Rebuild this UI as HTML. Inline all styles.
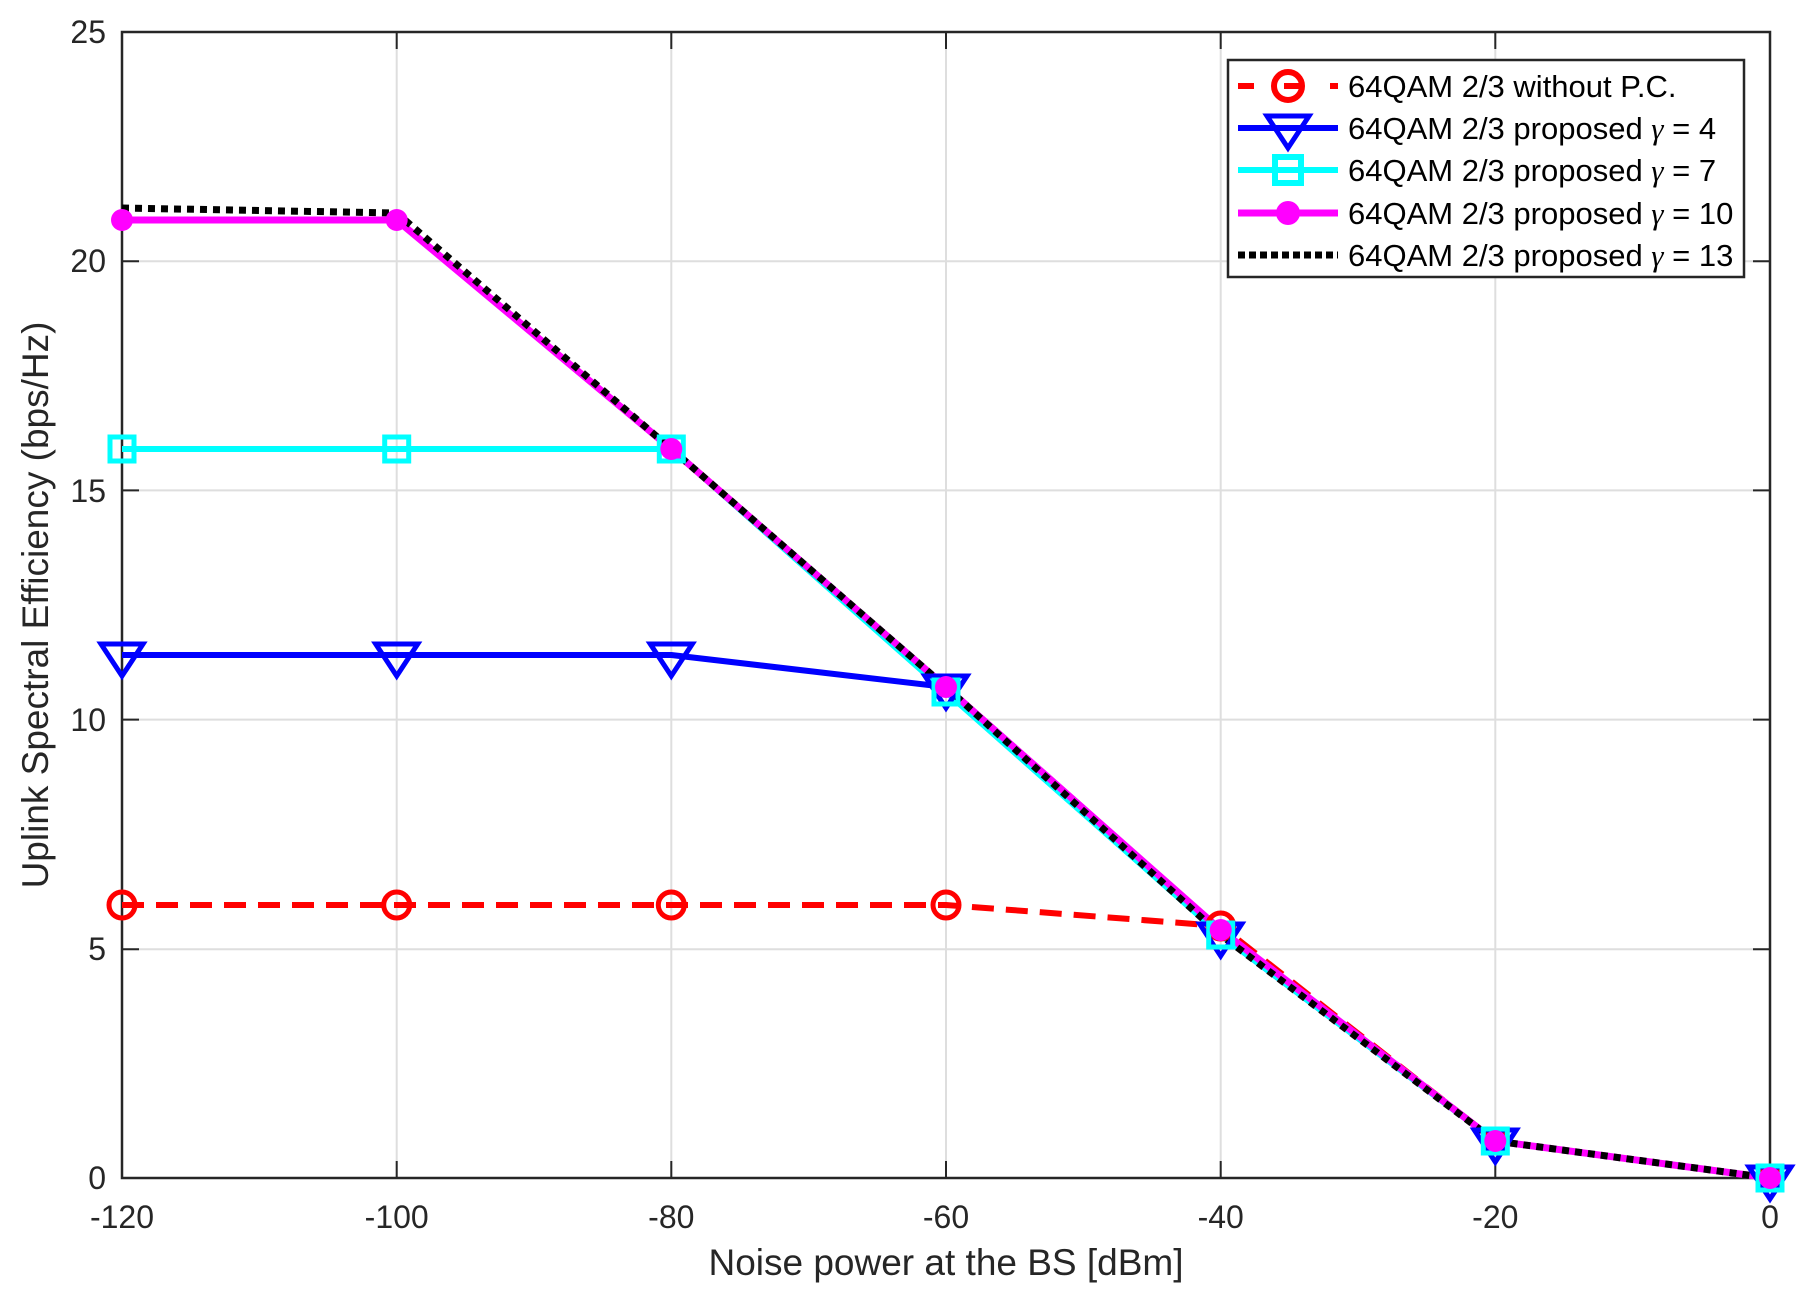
<!DOCTYPE html>
<html><head><meta charset="utf-8"><style>
body{margin:0;background:#fff}
svg{display:block}
text{font-family:"Liberation Sans",sans-serif;fill:#262626}
</style></head><body>
<svg width="1812" height="1304" xmlns="http://www.w3.org/2000/svg">
<rect width="1812" height="1304" fill="#fff"/>
<g stroke="#dedede" stroke-width="2">
<line x1="396.7" y1="32" x2="396.7" y2="1178"/><line x1="671.3" y1="32" x2="671.3" y2="1178"/><line x1="946" y1="32" x2="946" y2="1178"/><line x1="1220.7" y1="32" x2="1220.7" y2="1178"/><line x1="1495.3" y1="32" x2="1495.3" y2="1178"/>
<line x1="122" y1="949.2" x2="1770" y2="949.2"/><line x1="122" y1="719.6" x2="1770" y2="719.6"/><line x1="122" y1="490.4" x2="1770" y2="490.4"/><line x1="122" y1="261.2" x2="1770" y2="261.2"/>
</g>
<rect x="122" y="32" width="1648" height="1146" fill="none" stroke="#262626" stroke-width="2.5"/>
<g stroke="#262626" stroke-width="2">
<line x1="396.7" y1="1178" x2="396.7" y2="1161"/><line x1="671.3" y1="1178" x2="671.3" y2="1161"/><line x1="946" y1="1178" x2="946" y2="1161"/><line x1="1220.7" y1="1178" x2="1220.7" y2="1161"/><line x1="1495.3" y1="1178" x2="1495.3" y2="1161"/>
<line x1="396.7" y1="32" x2="396.7" y2="49"/><line x1="671.3" y1="32" x2="671.3" y2="49"/><line x1="946" y1="32" x2="946" y2="49"/><line x1="1220.7" y1="32" x2="1220.7" y2="49"/><line x1="1495.3" y1="32" x2="1495.3" y2="49"/>
<line x1="122" y1="949.2" x2="139" y2="949.2"/><line x1="122" y1="719.6" x2="139" y2="719.6"/><line x1="122" y1="490.4" x2="139" y2="490.4"/><line x1="122" y1="261.2" x2="139" y2="261.2"/>
<line x1="1770" y1="949.2" x2="1753" y2="949.2"/><line x1="1770" y1="719.6" x2="1753" y2="719.6"/><line x1="1770" y1="490.4" x2="1753" y2="490.4"/><line x1="1770" y1="261.2" x2="1753" y2="261.2"/>
</g>
<g font-size="32" text-anchor="middle">
<text x="122" y="1228">-120</text><text x="396.7" y="1228">-100</text><text x="671.3" y="1228">-80</text><text x="946" y="1228">-60</text><text x="1220.7" y="1228">-40</text><text x="1495.3" y="1228">-20</text><text x="1770" y="1228">0</text>
</g>
<g font-size="32" text-anchor="end">
<text x="106" y="1189">0</text><text x="106" y="960">5</text><text x="106" y="731">10</text><text x="106" y="502">15</text><text x="106" y="272">20</text><text x="106" y="43">25</text>
</g>
<text x="946" y="1275" font-size="37" text-anchor="middle">Noise power at the BS [dBm]</text>
<text transform="translate(48,605) rotate(-90)" font-size="37" text-anchor="middle">Uplink Spectral Efficiency (bps/Hz)</text>
<g fill="none" stroke-linejoin="round">
<polyline stroke="#ff0000" stroke-width="6" stroke-dasharray="22,12" points="122,905 396.7,905 671.3,905 946,905 1220.7,926 1495.3,1141 1770,1178"/>
<polyline stroke="#0000ff" stroke-width="6" points="122,655 396.7,655 671.3,655 946,687 1220.7,935 1495.3,1141 1770,1178"/>
<polyline stroke="#00ffff" stroke-width="6" points="122,449 396.7,449 671.3,449 946,692 1220.7,935 1495.3,1141 1770,1178"/>
<polyline stroke="#ff00ff" stroke-width="7" points="122,220 396.7,220 671.3,449 946,687 1220.7,930 1495.3,1141 1770,1178"/>
<polyline stroke="#000" stroke-width="7" stroke-dasharray="7,6" points="122,208 396.7,213 671.3,449 946,687 1220.7,935 1495.3,1141 1770,1178"/>
</g>
<g stroke-width="5" fill="none">
<g stroke="#ff0000"><circle cx="122" cy="905" r="13"/><circle cx="396.7" cy="905" r="13"/><circle cx="671.3" cy="905" r="13"/><circle cx="946" cy="905" r="13"/><circle cx="1220.7" cy="926" r="13"/><circle cx="1495.3" cy="1141" r="11"/><circle cx="1770" cy="1178" r="11"/></g>
<g stroke="#0000ff"><path d="M101,644h42l-21,32z"/><path d="M375.7,644h42l-21,32z"/><path d="M650.3,644h42l-21,32z"/><path d="M925,676h42l-21,32z"/><path d="M1199.7,924h42l-21,32z"/><path d="M1474.3,1130h42l-21,32z"/><path d="M1749,1167h42l-21,32z"/></g>
<g stroke="#00ffff"><rect x="110" y="437" width="24" height="24"/><rect x="384.7" y="437" width="24" height="24"/><rect x="659.3" y="437" width="24" height="24"/><rect x="934" y="680" width="24" height="24"/><rect x="1208.7" y="923" width="24" height="24"/><rect x="1483.3" y="1129" width="24" height="24"/><rect x="1758" y="1166" width="24" height="24"/></g>
</g>
<g fill="#ff00ff"><circle cx="122" cy="220" r="11"/><circle cx="396.7" cy="220" r="11"/><circle cx="671.3" cy="449" r="11"/><circle cx="946" cy="687" r="11"/><circle cx="1220.7" cy="930" r="11"/><circle cx="1495.3" cy="1141" r="11"/><circle cx="1770" cy="1178" r="11"/></g>
<rect x="1228" y="60" width="516" height="217" fill="#fff" stroke="#262626" stroke-width="2.5"/>
<g stroke-width="6">
<line x1="1238" y1="86" x2="1338" y2="86" stroke="#ff0000" stroke-dasharray="16,30"/>
<circle cx="1288" cy="86" r="14" stroke="#ff0000" stroke-width="6" fill="none"/>
<line x1="1238" y1="128" x2="1338" y2="128" stroke="#0000ff"/>
<path d="M1267,116h42l-21,32z" stroke="#0000ff" stroke-width="5" fill="none"/>
<line x1="1238" y1="170" x2="1338" y2="170" stroke="#00ffff"/>
<rect x="1275" y="157" width="26" height="26" stroke="#00ffff" stroke-width="6" fill="none"/>
<line x1="1238" y1="213" x2="1338" y2="213" stroke="#ff00ff" stroke-width="7"/>
<circle cx="1288" cy="213" r="12" fill="#ff00ff" stroke="none"/>
<line x1="1238" y1="255" x2="1338" y2="255" stroke="#000" stroke-width="7" stroke-dasharray="7,4"/>
</g>
<g font-size="31">
<text x="1348" y="97" style="fill:#000">64QAM 2/3 without P.C.</text>
<text x="1348" y="139" style="fill:#000">64QAM 2/3 proposed <tspan font-family="Liberation Serif" font-style="italic">γ</tspan> = 4</text>
<text x="1348" y="181" style="fill:#000">64QAM 2/3 proposed <tspan font-family="Liberation Serif" font-style="italic">γ</tspan> = 7</text>
<text x="1348" y="224" style="fill:#000">64QAM 2/3 proposed <tspan font-family="Liberation Serif" font-style="italic">γ</tspan> = 10</text>
<text x="1348" y="266" style="fill:#000">64QAM 2/3 proposed <tspan font-family="Liberation Serif" font-style="italic">γ</tspan> = 13</text>
</g>
</svg>
</body></html>
